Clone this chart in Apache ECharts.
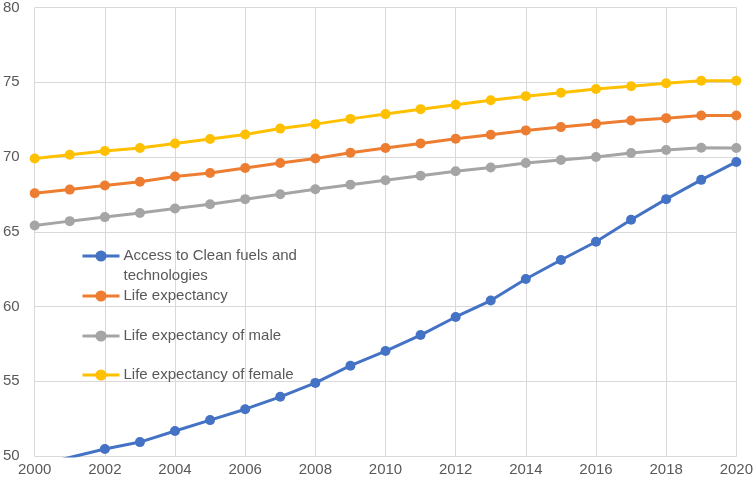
<!DOCTYPE html>
<html>
<head>
<meta charset="utf-8">
<script src="https://cdn.jsdelivr.net/npm/echarts@6/dist/echarts.min.js"></script>
<style>html,body{margin:0;padding:0;background:#fff}#c{width:756px;height:483px}</style>
</head>
<body>
<div id="c"></div>
<script>
var years = [2000,2001,2002,2003,2004,2005,2006,2007,2008,2009,2010,2011,2012,2013,2014,2015,2016,2017,2018,2019,2020];
var cleanFuels = [49.3,49.9,50.47,50.93,51.67,52.4,53.13,53.96,54.89,56.04,57.02,58.09,59.3,60.4,61.84,63.11,64.33,65.8,67.18,68.47,69.67];
var lifeExp = [67.58,67.82,68.09,68.35,68.69,68.93,69.27,69.6,69.9,70.29,70.6,70.91,71.22,71.49,71.78,72.0,72.22,72.44,72.6,72.78,72.78];
var lifeMale = [65.42,65.71,65.98,66.25,66.55,66.84,67.18,67.51,67.84,68.15,68.45,68.75,69.05,69.3,69.6,69.8,70.0,70.27,70.47,70.62,70.6];
var lifeFemale = [69.9,70.15,70.4,70.6,70.9,71.2,71.5,71.9,72.2,72.55,72.87,73.2,73.5,73.8,74.07,74.3,74.55,74.73,74.93,75.1,75.1];
var names = ['Access to Clean fuels and technologies','Life expectancy','Life expectancy of male','Life expectancy of female'];
var colors = ['#4472C4','#ED7D31','#A5A5A5','#FFC000'];
var seriesData = [cleanFuels, lifeExp, lifeMale, lifeFemale];

var font = 'Liberation Sans';
var txt = '#595959';
function pairs(vals){ return years.map(function(y,i){return [y, vals[i]];}); }
function mkLegend(name, top, fmt){
  return {
    data:[name], left:76, top:top, orient:'vertical',
    itemWidth:37, itemHeight:14, itemGap:0,
    lineStyle:{width:3},
    formatter: fmt || '{name}',
    textStyle:{color:txt, fontSize:15, fontFamily:font, lineHeight:20, padding:[0,0,0,-1]}
  };
}
var chart = echarts.init(document.getElementById('c'));
chart.setOption({
  animation:false,
  color: colors,
  grid:{left:32, right:17, top:6, bottom:27, containLabel:false},
  xAxis:{
    type:'value', min:2000, max:2020, interval:2,
    axisLine:{show:true, lineStyle:{color:'#d9d9d9', width:1}},
    axisTick:{show:false},
    splitLine:{show:true, lineStyle:{color:'#d9d9d9', width:1}},
    axisLabel:{color:txt, fontSize:15, fontFamily:font, margin:6, formatter:function(v){return String(v);}}
  },
  yAxis:{
    type:'value', min:50, max:80, interval:5,
    axisLine:{show:false}, axisTick:{show:false},
    splitLine:{show:true, lineStyle:{color:'#d9d9d9', width:1}},
    axisLabel:{color:txt, fontSize:15, fontFamily:font, margin:15}
  },
  legend:[
    mkLegend(names[0], 221, function(){return ' \nAccess to Clean fuels and\ntechnologies';}),
    mkLegend(names[1], 281),
    mkLegend(names[2], 321),
    mkLegend(names[3], 360)
  ],
  series: seriesData.map(function(d,i){
    return {
      name:names[i], type:'line', data:pairs(d),
      symbol:'circle', symbolSize:10, clip:true,
      lineStyle:{width:3, color:colors[i]},
      itemStyle:{color:colors[i]},
      z: 10 - i
    };
  })
});
</script>
</body>
</html>
